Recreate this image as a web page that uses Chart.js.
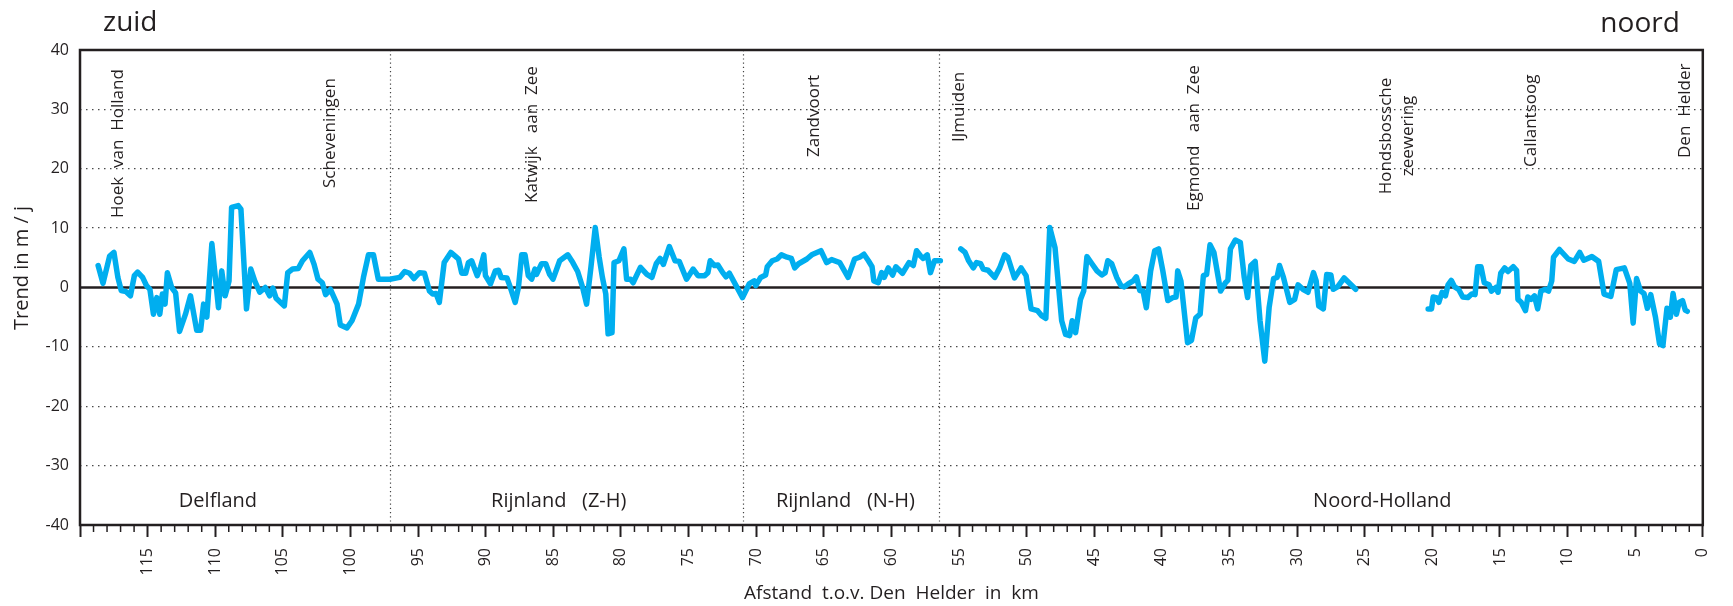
<!DOCTYPE html>
<html>
<head>
<meta charset="utf-8">
<script src="https://cdn.jsdelivr.net/npm/chart.js@4.4.1/dist/chart.umd.min.js"></script>
<style>
  html, body { margin: 0; padding: 0; background: #fff; }
  #wrap { width: 1733px; height: 606px; position: relative; }
</style>
</head>
<body>
<div id="wrap"><canvas id="trend"></canvas></div>
<script>
// trend (m/j) per kustvak, km measured from Den Helder
const delflandKm = [118.66,118.30,117.81,117.49,117.20,116.95,116.59,116.27,115.98,115.74,115.37,115.08,114.83,114.57,114.32,114.10,113.91,113.71,113.54,113.22,112.93,112.64,112.20,111.83,111.37,111.08,110.86,110.62,110.25,109.76,109.52,109.27,108.98,108.79,108.30,108.10,107.69,107.37,107.08,106.71,106.30,105.98,105.74,105.50,104.89,104.64,104.28,103.86,103.55,103.01,102.69,102.40,102.08,101.84,101.48,100.99,100.75,100.26,99.89,99.40,99.04,98.67,98.30,97.94,97.09];
const delflandTrend = [3.7,0.7,5.3,5.9,1.7,-0.5,-0.7,-1.4,2.0,2.6,1.7,0.3,-0.3,-4.5,-1.7,-4.5,-1.1,-2.8,2.5,0.0,-0.9,-7.4,-4.5,-1.4,-7.2,-7.2,-2.8,-5.0,7.4,-3.4,2.8,-1.4,1.1,13.5,13.8,13.2,-3.6,3.1,1.1,-0.8,0.0,-1.4,-0.1,-1.8,-3.1,2.5,3.1,3.2,4.5,5.9,3.9,1.4,0.8,-1.2,-0.3,-2.8,-6.3,-6.8,-5.6,-2.8,1.7,5.5,5.5,1.4,1.4];

const rijnlandZHKm = [96.36,95.99,95.63,95.31,94.90,94.53,94.16,93.92,93.67,93.43,93.07,92.58,92.21,92.01,91.77,91.48,91.28,91.04,90.63,90.38,90.14,90.02,89.65,89.29,89.05,88.85,88.43,88.19,87.82,87.58,87.34,87.09,86.85,86.60,86.36,86.24,85.87,85.56,85.27,85.02,84.53,83.93,83.56,83.20,82.83,82.54,82.22,81.90,81.61,81.37,81.12,80.95,80.66,80.51,80.15,79.78,79.58,79.29,79.10,78.56,78.08,77.71,77.39,77.10,76.86,76.42,76.00,75.69,75.15,74.66,74.30,73.81,73.57,73.40,73.08,72.83,72.47,72.23,71.98,71.01];
const rijnlandZHTrend = [1.7,2.7,2.4,1.5,2.5,2.4,-0.6,-1.1,-1.0,-2.5,4.2,5.9,5.2,4.8,2.4,2.4,4.2,4.5,2.0,3.4,5.5,2.0,0.6,2.8,2.9,1.7,1.6,0.1,-2.5,0.0,5.5,5.5,2.0,1.4,3.1,2.2,4.0,4.0,2.2,1.4,4.5,5.5,4.2,2.7,0.0,-2.8,3.4,10.1,5.1,1.7,-1.1,-7.8,-7.6,4.2,4.5,6.5,1.4,1.4,0.8,3.4,2.2,1.7,4.0,4.9,3.9,6.9,4.5,4.4,1.4,3.1,2.0,2.0,2.5,4.5,3.7,3.8,2.5,1.8,2.4,-1.7];

const rijnlandNHKm = [70.52,70.15,70.03,69.67,69.30,69.18,68.81,68.45,68.13,67.71,67.40,67.15,66.86,66.25,65.89,65.21,64.79,64.42,63.82,63.20,62.72,62.35,62.03,61.70,61.43,61.30,60.97,60.72,60.53,60.23,59.91,59.67,59.18,58.70,58.38,58.14,57.84,57.65,57.35,57.11,56.82,56.38];
const rijnlandNHTrend = [0.6,1.1,0.3,1.7,2.1,3.5,4.5,4.8,5.5,5.1,4.9,3.3,4.0,4.8,5.5,6.2,4.2,4.7,4.2,1.7,4.8,5.1,5.6,4.5,3.5,1.1,0.8,2.5,1.7,3.3,2.1,3.5,2.4,4.2,3.7,6.2,5.3,4.9,5.5,2.5,4.5,4.5];

const noordHollandZuidKm = [54.87,54.55,54.31,53.95,53.70,53.40,53.21,52.85,52.36,51.99,51.63,51.39,50.90,50.41,50.04,49.67,49.19,48.87,48.58,48.29,47.90,47.41,47.12,46.82,46.63,46.38,46.02,45.78,45.54,45.17,44.80,44.44,44.19,44.00,43.71,43.34,43.02,42.78,42.49,42.12,41.88,41.63,41.39,41.15,40.83,40.53,40.24,39.93,39.56,39.20,38.95,38.83,38.59,38.10,37.81,37.49,37.17,36.93,36.69,36.44,36.15,35.66,35.30,35.12,34.93,34.57,34.20,33.91,33.66,33.42,33.10,32.74,32.39,32.07,31.74,31.48,31.30,31.01,30.54,30.18,29.93,29.57,29.20,28.79,28.59,28.40,28.06,27.81,27.50,27.33,27.01,26.52,26.16,25.67];
const noordHollandZuidTrend = [6.5,5.9,4.6,3.3,4.2,4.0,3.1,2.9,1.7,3.3,5.5,5.1,1.6,3.3,2.0,-3.6,-3.9,-4.8,-5.2,10.1,6.7,-5.6,-7.9,-8.1,-5.6,-7.6,-2.0,-0.6,5.2,4.0,2.8,2.1,2.5,4.5,4.0,1.7,0.3,0.1,0.6,1.1,1.8,-0.5,-0.6,-3.4,2.8,6.2,6.5,2.8,-2.2,-1.7,-1.6,2.8,1.1,-9.3,-8.9,-5.1,-4.5,2.0,2.2,7.2,5.9,-0.6,0.8,1.2,6.5,8.0,7.6,1.7,-1.7,3.7,4.4,-5.6,-12.4,-3.4,1.5,1.7,3.7,1.7,-2.5,-2.0,0.45,-0.3,-0.8,2.5,1.1,-3.1,-3.6,2.2,2.1,-0.3,0.1,1.6,0.8,-0.3];

const noordHollandNoordKm = [20.31,20.06,19.94,19.69,19.52,19.28,19.03,18.84,18.60,18.35,18.06,17.75,17.38,17.09,16.84,16.65,16.40,16.16,15.80,15.63,15.31,15.14,14.94,14.65,14.41,14.02,13.77,13.67,13.43,13.11,12.94,12.70,12.45,12.21,11.97,11.65,11.41,11.17,11.04,10.60,9.95,9.50,9.10,8.80,8.20,7.70,7.30,6.80,6.40,5.80,5.40,5.15,4.90,4.60,4.35,4.10,3.85,3.50,3.20,2.95,2.65,2.40,2.20,1.95,1.75,1.50,1.30,1.15];
const noordHollandNoordTrend = [-3.6,-3.6,-1.6,-1.7,-2.5,-0.8,-1.4,0.45,1.2,0.1,-0.3,-1.6,-1.7,-1.1,-1.2,3.5,3.5,0.8,0.45,-0.6,0.0,-0.8,2.4,3.3,2.7,3.5,2.9,-2.0,-2.5,-3.9,-1.6,-2.0,-1.4,-3.6,-0.6,-0.3,-0.6,1.1,5.1,6.4,4.8,4.4,5.9,4.6,5.2,4.4,-1.1,-1.5,3.0,3.3,0.7,-6.0,1.5,-0.6,-1.0,-3.5,-1.2,-5.0,-9.5,-9.8,-3.5,-5.0,-1.0,-4.5,-2.5,-2.2,-3.8,-4.0];

// no data: IJmuiden harbour and Hondsbossche zeewering
const gapKm = [55.6, 23.0];

const boundaryKm = [97.1, 71.0, 56.45];
const regionNames = ['Delfland', 'Rijnland   (Z-H)', 'Rijnland   (N-H)', 'Noord-Holland'];
const regionKm = [109.8, 84.6, 63.4, 23.7];
const placeNames = ['Hoek  van  Holland', 'Scheveningen', 'Katwijk   aan  Zee', 'Zandvoort', 'IJmuiden', 'Egmond   aan  Zee', 'Hondsbossche|zeewering', 'Callantsoog', 'Den  Helder'];
const placeKm = [117.2, 101.5, 86.6, 65.7, 55.0, 37.6, 22.6, 12.7, 1.3];

const FONT = '"Open Sans", "Noto Sans", sans-serif';
const INK = '#231f20';
const BLUE = '#00aeef';

function segment(kms, trends) {
  return kms.map((k, i) => ({ x: k, y: trends[i] }));
}

const points = [
  ...segment(delflandKm, delflandTrend),
  ...segment(rijnlandZHKm, rijnlandZHTrend),
  ...segment(rijnlandNHKm, rijnlandNHTrend),
  { x: gapKm[0], y: null },
  ...segment(noordHollandZuidKm, noordHollandZuidTrend),
  { x: gapKm[1], y: null },
  ...segment(noordHollandNoordKm, noordHollandNoordTrend)
];

// where the rotated place names start (text bottom, px)
const placeBottom = [218, 188, 203, 157, 142, 211, 184, 167, 158];

const overlay = {
  id: 'overlay',
  beforeDatasetsDraw(chart) {
    const { ctx, chartArea: a, scales: { x, y } } = chart;
    ctx.save();
    ctx.strokeStyle = '#444';
    ctx.lineWidth = 1.2;
    ctx.setLineDash([1.2, 3]);
    boundaryKm.forEach(k => {
      const px = Math.round(x.getPixelForValue(k)) + 0.5;
      ctx.beginPath();
      ctx.moveTo(px, a.top);
      ctx.lineTo(px, a.bottom);
      ctx.stroke();
    });
    ctx.setLineDash([]);
    ctx.strokeStyle = INK;
    ctx.lineWidth = 2.5;
    const y0 = y.getPixelForValue(0);
    ctx.beginPath();
    ctx.moveTo(a.left, y0);
    ctx.lineTo(a.right, y0);
    ctx.stroke();
    ctx.restore();
  },
  afterDraw(chart) {
    const { ctx, chartArea: a, scales: { x } } = chart;
    ctx.save();
    // frame
    ctx.strokeStyle = INK;
    ctx.lineWidth = 2.5;
    ctx.strokeRect(a.left, a.top, a.right - a.left, a.bottom - a.top);
    // minor km ticks
    ctx.lineWidth = 1.5;
    for (let k = 1; k < 120; k++) {
      if (k % 5 === 0) continue;
      const px = x.getPixelForValue(k);
      ctx.beginPath();
      ctx.moveTo(px, a.bottom);
      ctx.lineTo(px, a.bottom + 7);
      ctx.stroke();
    }
    ctx.fillStyle = INK;
    // y axis title, sits a bit above the middle like the original
    ctx.save();
    ctx.font = '20px ' + FONT;
    ctx.textAlign = 'center';
    ctx.textBaseline = 'middle';
    ctx.translate(22, 268);
    ctx.rotate(-Math.PI / 2);
    ctx.fillText('Trend in m / j', 0, 0);
    ctx.restore();
    // zuid / noord
    ctx.font = '28px ' + FONT;
    ctx.textBaseline = 'alphabetic';
    ctx.textAlign = 'left';
    ctx.fillText('zuid', a.left + 23, 31);
    ctx.textAlign = 'right';
    ctx.fillText('noord', a.right - 23, 32);
    // kustvak names
    ctx.font = '20px ' + FONT;
    ctx.textAlign = 'center';
    regionNames.forEach((name, i) => {
      ctx.fillText(name, x.getPixelForValue(regionKm[i]), a.bottom - 18);
    });
    // place names, rotated
    ctx.font = '17px ' + FONT;
    ctx.textBaseline = 'middle';
    placeNames.forEach((name, i) => {
      const lines = name.split('|');
      const cx = x.getPixelForValue(placeKm[i]);
      lines.forEach((line, j) => {
        const off = (j - (lines.length - 1) / 2) * 22;
        ctx.save();
        ctx.translate(cx + off, lines.length > 1 ? placeBottom[i] - 48 : placeBottom[i]);
        ctx.rotate(-Math.PI / 2);
        ctx.textAlign = lines.length > 1 ? 'center' : 'left';
        ctx.fillText(line, 0, 0);
        ctx.restore();
      });
    });
    ctx.restore();
  }
};

new Chart(document.getElementById('trend'), {
  type: 'line',
  data: {
    datasets: [{
      data: points,
      borderColor: BLUE,
      borderWidth: 5.5,
      pointRadius: 0,
      tension: 0,
      spanGaps: false,
      borderJoinStyle: 'round',
      borderCapStyle: 'round'
    }]
  },
  options: {
    responsive: true,
    maintainAspectRatio: false,
    animation: false,
    layout: { padding: { top: 50, right: 12, bottom: 0, left: 0 } },
    plugins: { legend: { display: false }, tooltip: { enabled: false } },
    scales: {
      x: {
        type: 'linear',
        reverse: true,
        min: 0,
        max: 120,
        afterFit: s => { s.height = 81; },
        border: { display: false },
        grid: { drawOnChartArea: false, drawTicks: true, tickLength: 12, tickWidth: 2, tickColor: INK },
        ticks: {
          stepSize: 5,
          autoSkip: false,
          minRotation: 90,
          maxRotation: 90,
          padding: 11,
          color: INK,
          font: { family: FONT, size: 16 },
          callback: v => (v === 120 ? '' : String(v))
        },
        title: {
          display: true,
          text: 'Afstand  t.o.v. Den  Helder  in  km',
          color: INK,
          font: { family: FONT, size: 19 },
          padding: { top: 0, bottom: 1 }
        }
      },
      y: {
        min: -40,
        max: 40,
        afterFit: s => { s.width = 80; },
        border: { display: false, dash: [1.5, 4.5] },
        grid: {
          drawTicks: false,
          lineWidth: 1.3,
          color: c => (c.tick && c.tick.value !== 0 && Math.abs(c.tick.value) < 40) ? '#4a4a4a' : 'rgba(0,0,0,0)'
        },
        ticks: { stepSize: 10, padding: 11, color: INK, font: { family: FONT, size: 16 } },
        title: { display: false }
      }
    }
  },
  plugins: [overlay]
});
</script>
</body>
</html>
